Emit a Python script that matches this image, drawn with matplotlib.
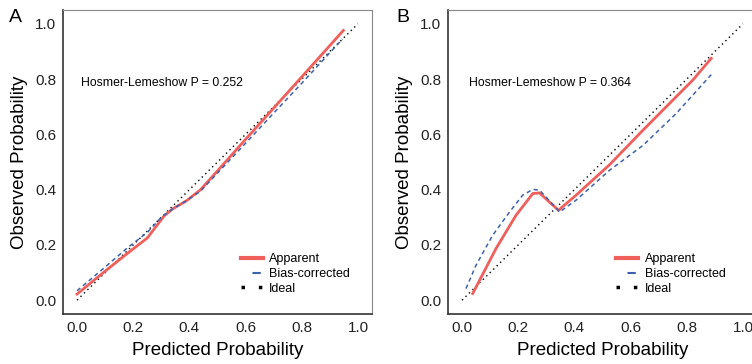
import matplotlib
matplotlib.use('Agg')
import matplotlib.pyplot as plt
from matplotlib.lines import Line2D

plt.rcParams['font.family'] = ['Liberation Sans', 'DejaVu Sans']

RED = '#EF5F5C'
BLUE = '#3C62AD'

# Panel A
a_app_x = [0.0, 0.10, 0.18, 0.25, 0.28, 0.31, 0.34, 0.39, 0.44, 0.50, 0.60, 0.70, 0.80, 0.948]
a_app_y = [0.022, 0.105, 0.17, 0.225, 0.265, 0.305, 0.33, 0.36, 0.40, 0.468, 0.582, 0.695, 0.808, 0.976]
a_bc_x = [0.0, 0.10, 0.18, 0.25, 0.30, 0.34, 0.39, 0.44, 0.50, 0.60, 0.70, 0.80, 0.945]
a_bc_y = [0.034, 0.12, 0.19, 0.245, 0.30, 0.33, 0.36, 0.395, 0.46, 0.568, 0.677, 0.785, 0.945]
a_text = 'Hosmer-Lemeshow P = 0.252'

# Panel B
b_app_x = [0.038, 0.121, 0.192, 0.252, 0.276, 0.311, 0.344, 0.353, 0.406, 0.525, 0.644, 0.727, 0.822, 0.887]
b_app_y = [0.024, 0.187, 0.307, 0.386, 0.388, 0.355, 0.325, 0.334, 0.38, 0.49, 0.615, 0.70, 0.797, 0.875]
b_bc_x = [0.014, 0.05, 0.109, 0.169, 0.216, 0.252, 0.276, 0.311, 0.347, 0.406, 0.525, 0.644, 0.762, 0.887]
b_bc_y = [0.042, 0.127, 0.235, 0.319, 0.38, 0.401, 0.398, 0.36, 0.319, 0.362, 0.47, 0.56, 0.675, 0.816]
b_text = 'Hosmer-Lemeshow P = 0.364'

ideal = [0, 1]
ticks = [0.0, 0.2, 0.4, 0.6, 0.8, 1.0]


def calib_panel(ax, app_x, app_y, bc_x, bc_y, text, text_x, leg_x):
    ax.plot(ideal, ideal, color='black', lw=1.0, linestyle=(0, (1, 2.5)))
    ax.plot(app_x, app_y, color=RED, lw=2.0)
    ax.plot(bc_x, bc_y, color=BLUE, lw=1.1, linestyle=(0, (2.8, 2.2)))
    ax.set_xlim(-0.05, 1.05)
    ax.set_ylim(-0.05, 1.05)
    ax.set_xticks(ticks)
    ax.set_yticks(ticks)
    ax.set_xticklabels([f'{t:.1f}' for t in ticks])
    ax.set_yticklabels([f'{t:.1f}' for t in ticks])
    ax.tick_params(length=0, labelsize=11, pad=5, colors='#222222')
    for s in ['top', 'right']:
        ax.spines[s].set_color('#888888')
    for s in ['bottom', 'left']:
        ax.spines[s].set_color('#333333')
        ax.spines[s].set_linewidth(1.2)
    ax.set_xlabel('Predicted Probability', fontsize=13.5, labelpad=5)
    ax.set_ylabel('Observed Probability', fontsize=13.5, labelpad=5)
    ax.text(text_x, 0.787, text, fontsize=8.8, va='center')

    handles = [
        Line2D([], [], color=RED, lw=3),
        Line2D([], [], color=BLUE, lw=1.5, linestyle=(4.0, (4.0, 5.5))),
        Line2D([], [], color='black', lw=2.5, linestyle=(0, (1, 4.0))),
    ]
    ax.legend(handles, ['Apparent', 'Bias-corrected', 'Ideal'], frameon=False,
              loc='upper left', bbox_to_anchor=(leg_x, 0.2), borderpad=0,
              borderaxespad=0, fontsize=9, handlelength=1.75,
              handletextpad=0.5, labelspacing=0.22)


fig = plt.figure(figsize=(7.52, 3.64), dpi=100)
ax_a = fig.add_axes([63 / 752, 50 / 364, 309 / 752, 304 / 364])
ax_b = fig.add_axes([448 / 752, 50 / 364, 309 / 752, 304 / 364])

calib_panel(ax_a, a_app_x, a_app_y, a_bc_x, a_bc_y, a_text, 0.015, 0.575)
calib_panel(ax_b, b_app_x, b_app_y, b_bc_x, b_bc_y, b_text, 0.024, 0.545)

fig.text(15 / 752, 1 - 17 / 364, 'A', fontsize=14, va='center', ha='center')
fig.text(403 / 752, 1 - 17 / 364, 'B', fontsize=14, va='center', ha='center')

fig.savefig('out.png', dpi=100)
